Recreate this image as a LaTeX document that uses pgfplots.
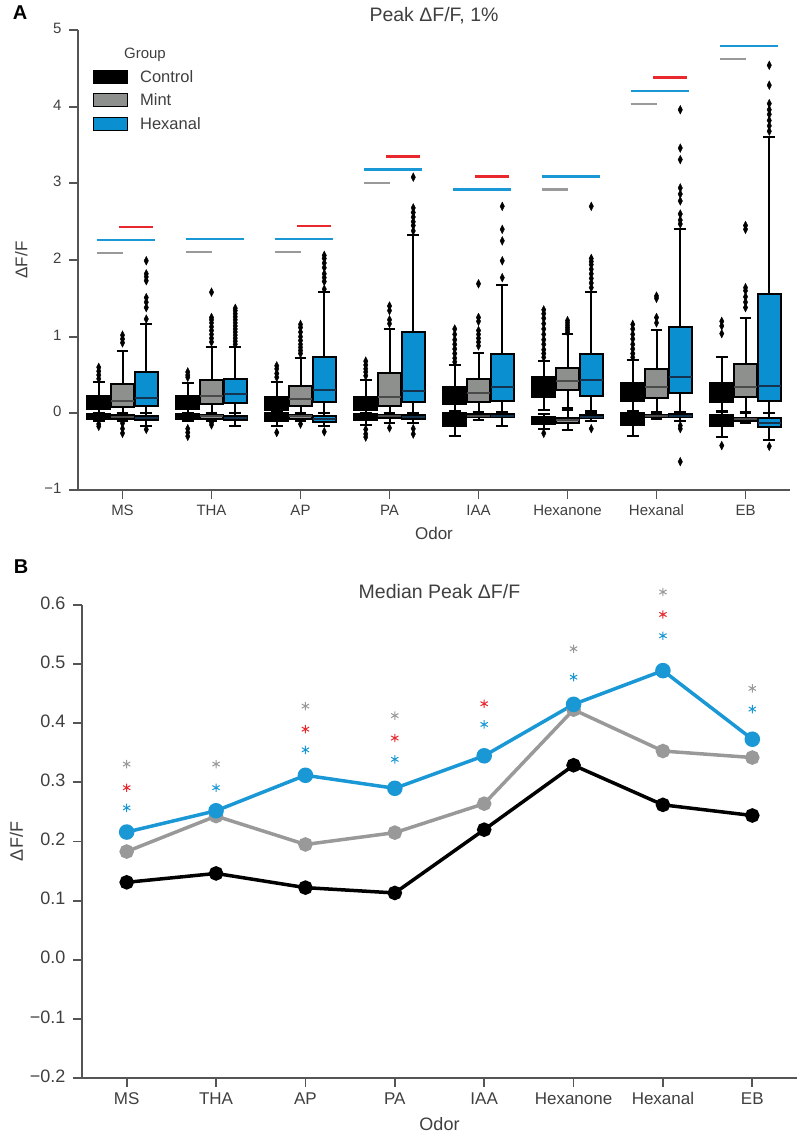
\documentclass[border=0pt]{standalone}
\usepackage{fontspec}
\setmainfont{Liberation Sans}
\usepackage{pgfplots}
\pgfplotsset{compat=1.18}
\usepgfplotslibrary{statistics}
\definecolor{txt}{HTML}{3F3F3F}
\definecolor{spine}{HTML}{555555}
\definecolor{cgray}{HTML}{8E908E}
\definecolor{mmed}{HTML}{4A4A4A}
\definecolor{cblue}{HTML}{0A8FD1}
\definecolor{hmed}{HTML}{15334F}
\definecolor{lgray}{HTML}{999999}
\definecolor{lblue}{HTML}{1A97D5}
\definecolor{cred}{HTML}{E8282C}
\pgfplotsset{
  bx/.style={forget plot, solid, line width=2pt, draw=black,
    mark=diamond*, mark size=4.3pt, mark options={fill=black, draw=black, xscale=0.68, line width=0.4pt},
    boxplot/draw direction=y,
    boxplot/box extend=0.26, boxplot/whisker extend=0.13},
  bC/.style={bx, fill=black, boxplot/every median/.style={draw=black}},
  bM/.style={bx, fill=cgray, boxplot/every median/.style={draw=mmed}},
  bH/.style={bx, fill=cblue, boxplot/every median/.style={draw=hmed}},
}
\newcommand{\bp}[8]{\addplot[#1, boxplot prepared={draw position=#2, lower whisker=#3, lower quartile=#4, median=#5, upper quartile=#6, upper whisker=#7}] coordinates {#8};}
\begin{document}
\begin{tikzpicture}
\path[use as bounding box] (0,0) rectangle (800pt,-1137pt);
\node[font=\bfseries\fontsize{20}{24}\selectfont] at (20pt,-13pt) {A};
\node[font=\bfseries\fontsize{20}{24}\selectfont] at (21pt,-567pt) {B};
% ---------------- Panel A ----------------
\begin{axis}[
  at={(78pt,-490pt)}, anchor=south west, scale only axis,
  width=712pt, height=460pt,
  xmin=-0.5, xmax=7.5, ymin=-1, ymax=5,
  axis x line*=bottom, axis y line*=left,
  axis line style={spine, line width=1.8pt, -},
  xtick={0,1,2,3,4,5,6,7}, xticklabels={MS,THA,AP,PA,IAA,Hexanone,Hexanal,EB},
  ytick={-1,0,1,2,3,4,5}, yticklabels={−1,0,1,2,3,4,5},
  typeset ticklabels with strut,
  tick align=outside, major tick length=9pt, tick style={spine, line width=1.8pt},
  ticklabel style={font=\fontsize{15}{18}\selectfont, text=txt},
  yticklabel style={xshift=-4pt},
  xlabel={Odor}, ylabel={ΔF/F}, ylabel shift=10pt,
  label style={font=\fontsize{17}{20}\selectfont, text=txt},
  title={Peak ΔF/F, 1\%}, title style={font=\fontsize{19.5}{23}\selectfont, text=txt, yshift=-4pt},
  clip=false, unbounded coords=jump,
  legend image code/.code={\draw[#1] (0pt,-6.5pt) rectangle (34pt,6.5pt);},
  legend style={at={(0.021,0.965)}, anchor=north west, draw=none, fill=none, inner sep=0pt,
    font=\fontsize{16.5}{19}\selectfont, text=txt, row sep=6pt,
    /tikz/every odd column/.append style={column sep=10pt}},
  legend cell align=left,
]
\addlegendimage{empty legend}\addlegendentry{\hspace*{-16pt}\fontsize{15}{18}\selectfont Group}
\addlegendimage{fill=black, draw=black, line width=1pt}\addlegendentry{Control}
\addlegendimage{fill=cgray, draw=black, line width=1pt}\addlegendentry{Mint}
\addlegendimage{fill=cblue, draw=black, line width=1pt}\addlegendentry{Hexanal}
% significance lines
\addplot[forget plot, lgray, line width=2.2pt] coordinates {(-0.29,2.09)(0,2.09) (nan,nan) (0.71,2.10)(1,2.10) (nan,nan) (1.71,2.10)(2,2.10) (nan,nan) (2.71,3.00)(3,3.00) (nan,nan) (4.71,2.92)(5,2.92) (nan,nan) (5.71,4.03)(6,4.03) (nan,nan) (6.71,4.62)(7,4.62)};
\addplot[forget plot, lblue, line width=2.2pt] coordinates {(-0.29,2.26)(0.36,2.26) (nan,nan) (0.71,2.27)(1.36,2.27) (nan,nan) (1.71,2.27)(2.36,2.27) (nan,nan) (2.71,3.18)(3.36,3.18) (nan,nan) (3.71,2.92)(4.36,2.92) (nan,nan) (4.71,3.09)(5.36,3.09) (nan,nan) (5.71,4.20)(6.36,4.20) (nan,nan) (6.71,4.79)(7.36,4.79)};
\addplot[forget plot, cred, line width=2.2pt] coordinates {(-0.04,2.43)(0.34,2.43) (nan,nan) (1.96,2.44)(2.34,2.44) (nan,nan) (2.96,3.35)(3.34,3.35) (nan,nan) (3.96,3.09)(4.34,3.09) (nan,nan) (5.96,4.38)(6.34,4.38)};
% MS
\bp{bC}{-0.267}{0.0}{0.06}{0.14}{0.22}{0.41}{(0,0.45)(0,0.5)(0,0.55)(0,0.6)}
\bp{bM}{0}{0.0}{0.08}{0.16}{0.38}{0.81}{(0,0.92)(0,0.97)(0,1.02)}
\bp{bH}{0.267}{0.0}{0.095}{0.20}{0.54}{1.16}{(0,1.23)(0,1.38)(0,1.45)(0,1.51)(0,1.73)(0,1.78)(0,1.82)(0,1.99)}
\bp{bC}{-0.267}{-0.1}{-0.07}{-0.04}{-0.01}{0.0}{(0,-0.14)(0,-0.17)}
\bp{bM}{0}{-0.1}{-0.07}{-0.045}{-0.02}{0.0}{(0,-0.13)(0,-0.2)(0,-0.26)}
\bp{bH}{0.267}{-0.17}{-0.09}{-0.06}{-0.035}{0.0}{(0,-0.21)}
% THA
\bp{bC}{0.733}{0.0}{0.06}{0.14}{0.22}{0.40}{(0,0.47)(0,0.5)(0,0.54)}
\bp{bM}{1}{0.0}{0.126}{0.23}{0.43}{0.87}{(0,0.93)(0,0.98)(0,1.03)(0,1.08)(0,1.13)(0,1.18)(0,1.22)(0,1.25)(0,1.58)}
\bp{bH}{1.267}{0.0}{0.14}{0.25}{0.45}{0.87}{(0,0.9)(0,0.94)(0,0.98)(0,1.02)(0,1.06)(0,1.1)(0,1.14)(0,1.18)(0,1.22)(0,1.26)(0,1.3)(0,1.34)(0,1.37)}
\bp{bC}{0.733}{-0.1}{-0.08}{-0.04}{-0.01}{0.0}{(0,-0.2)(0,-0.25)(0,-0.3)}
\bp{bM}{1}{-0.1}{-0.07}{-0.04}{-0.02}{0.0}{(0,-0.12)(0,-0.15)}
\bp{bH}{1.267}{-0.16}{-0.09}{-0.06}{-0.035}{0.0}{}
% AP
\bp{bC}{1.733}{0.0}{0.05}{0.13}{0.21}{0.41}{(0,0.47)(0,0.52)(0,0.58)(0,0.62)}
\bp{bM}{2}{0.0}{0.10}{0.19}{0.36}{0.72}{(0,0.78)(0,0.82)(0,0.86)(0,0.9)(0,0.95)(0,1.0)(0,1.06)(0,1.12)(0,1.16)}
\bp{bH}{2.267}{0.0}{0.15}{0.31}{0.74}{1.58}{(0,1.62)(0,1.72)(0,1.77)(0,1.82)(0,1.9)(0,1.96)(0,2.02)(0,2.06)}
\bp{bC}{1.733}{-0.16}{-0.1}{-0.05}{0.0}{0.02}{(0,-0.25)}
\bp{bM}{2}{-0.1}{-0.07}{-0.04}{-0.02}{0.0}{(0,-0.14)}
\bp{bH}{2.267}{-0.16}{-0.11}{-0.08}{-0.04}{0.0}{(0,-0.24)}
% PA
\bp{bC}{2.733}{0.0}{0.05}{0.13}{0.21}{0.43}{(0,0.49)(0,0.54)(0,0.58)(0,0.63)(0,0.68)}
\bp{bM}{3}{0.0}{0.10}{0.21}{0.52}{1.10}{(0,1.17)(0,1.22)(0,1.34)(0,1.40)}
\bp{bH}{3.267}{0.0}{0.15}{0.29}{1.06}{2.33}{(0,2.38)(0,2.45)(0,2.5)(0,2.56)(0,2.62)(0,2.68)(0,3.08)}
\bp{bC}{2.733}{-0.15}{-0.09}{-0.05}{-0.01}{0.01}{(0,-0.21)(0,-0.27)(0,-0.31)}
\bp{bM}{3}{-0.12}{-0.06}{-0.04}{-0.02}{0.0}{(0,-0.19)}
\bp{bH}{3.267}{-0.13}{-0.07}{-0.05}{-0.02}{0.0}{(0,-0.2)(0,-0.27)}
% IAA
\bp{bC}{3.733}{0.0}{0.125}{0.23}{0.34}{0.63}{(0,0.67)(0,0.72)(0,0.78)(0,0.84)(0,0.9)(0,0.96)(0,1.03)(0,1.1)}
\bp{bM}{4}{0.0}{0.15}{0.26}{0.45}{0.79}{(0,0.88)(0,0.93)(0,0.98)(0,1.03)(0,1.08)(0,1.2)(0,1.25)(0,1.69)}
\bp{bH}{4.267}{0.0}{0.155}{0.34}{0.78}{1.68}{(0,1.77)(0,1.99)(0,2.25)(0,2.40)(0,2.70)}
\bp{bC}{3.733}{-0.29}{-0.16}{-0.08}{0.0}{0.03}{}
\bp{bM}{4}{-0.09}{-0.05}{-0.03}{-0.01}{0.02}{}
\bp{bH}{4.267}{-0.16}{-0.05}{-0.03}{-0.01}{0.02}{}
% Hexanone
\bp{bC}{4.733}{0.04}{0.21}{0.35}{0.48}{0.68}{(0,0.73)(0,0.78)(0,0.83)(0,0.9)(0,0.96)(0,1.03)(0,1.1)(0,1.17)(0,1.24)(0,1.3)(0,1.35)}
\bp{bM}{5}{0.07}{0.30}{0.42}{0.59}{1.03}{(0,1.06)(0,1.09)(0,1.12)(0,1.15)(0,1.18)(0,1.21)}
\bp{bH}{5.267}{0.03}{0.23}{0.43}{0.78}{1.58}{(0,1.64)(0,1.7)(0,1.76)(0,1.82)(0,1.88)(0,1.94)(0,1.98)(0,2.02)(0,2.70)}
\bp{bC}{4.733}{-0.2}{-0.14}{-0.1}{-0.05}{-0.01}{(0,-0.26)}
\bp{bM}{5}{-0.22}{-0.12}{-0.09}{-0.06}{0.04}{}
\bp{bH}{5.267}{-0.1}{-0.06}{-0.045}{-0.025}{0.01}{(0,-0.2)}
% Hexanal
\bp{bC}{5.733}{0.0}{0.16}{0.27}{0.39}{0.70}{(0,0.73)(0,0.78)(0,0.84)(0,0.9)(0,0.97)(0,1.03)(0,1.1)(0,1.16)}
\bp{bM}{6}{0.0}{0.20}{0.34}{0.58}{1.09}{(0,1.18)(0,1.25)(0,1.50)(0,1.53)}
\bp{bH}{6.267}{0.0}{0.26}{0.47}{1.12}{2.40}{(0,2.47)(0,2.52)(0,2.60)(0,2.77)(0,2.86)(0,2.94)(0,3.31)(0,3.46)(0,3.96)}
\bp{bC}{5.733}{-0.29}{-0.15}{-0.08}{0.0}{0.03}{}
\bp{bM}{6}{-0.08}{-0.05}{-0.035}{-0.02}{0.02}{}
\bp{bH}{6.267}{-0.1}{-0.05}{-0.03}{-0.01}{0.02}{(0,-0.16)(0,-0.2)(0,-0.63)}
% EB
\bp{bC}{6.733}{0.02}{0.15}{0.27}{0.40}{0.74}{(0,1.04)(0,1.14)(0,1.20)}
\bp{bM}{7}{0.0}{0.21}{0.34}{0.65}{1.25}{(0,1.38)(0,1.45)(0,1.52)(0,1.6)(0,1.64)(0,2.40)(0,2.45)}
\bp{bH}{7.267}{0.0}{0.16}{0.36}{1.56}{3.61}{(0,3.68)(0,3.75)(0,3.82)(0,3.9)(0,3.96)(0,4.04)(0,4.28)(0,4.54)}
\bp{bC}{6.733}{-0.31}{-0.16}{-0.1}{-0.02}{0.03}{(0,-0.42)}
\bp{bM}{7}{-0.13}{-0.1}{-0.08}{-0.06}{0.02}{}
\bp{bH}{7.267}{-0.35}{-0.18}{-0.12}{-0.065}{0.0}{(0,-0.43)}
\end{axis}
% ---------------- Panel B ----------------
\begin{axis}[
  at={(82pt,-1078pt)}, anchor=south west, scale only axis,
  width=715pt, height=473pt,
  xmin=-0.5, xmax=7.5, ymin=-0.2, ymax=0.6,
  axis x line*=bottom, axis y line*=left,
  axis line style={spine, line width=1.8pt, -},
  xtick={0,1,2,3,4,5,6,7}, xticklabels={MS,THA,AP,PA,IAA,Hexanone,Hexanal,EB},
  ytick={-0.2,-0.1,0,0.1,0.2,0.3,0.4,0.5,0.6},
  yticklabels={−0.2,−0.1,0.0,0.1,0.2,0.3,0.4,0.5,0.6},
  typeset ticklabels with strut,
  tick align=outside, major tick length=9pt, tick style={spine, line width=1.8pt},
  xticklabel style={font=\fontsize{17}{20}\selectfont, text=txt},
  yticklabel style={font=\fontsize{18}{21}\selectfont, text=txt, xshift=-4pt},
  xlabel={Odor}, ylabel={ΔF/F},
  label style={font=\fontsize{18}{21}\selectfont, text=txt},
  title={Median Peak ΔF/F}, title style={font=\fontsize{19.5}{23}\selectfont, text=txt, yshift=-3pt},
  clip=false,
]
\addplot[black, line width=3.5pt, mark=*, mark size=5.5pt] coordinates {(0,0.131)(1,0.146)(2,0.122)(3,0.113)(4,0.220)(5,0.329)(6,0.262)(7,0.244)};
\addplot[lgray, line width=3.5pt, mark=*, mark size=5.5pt] coordinates {(0,0.183)(1,0.243)(2,0.195)(3,0.215)(4,0.264)(5,0.423)(6,0.353)(7,0.342)};
\addplot[lblue, line width=3.5pt, mark=*, mark size=6pt] coordinates {(0,0.216)(1,0.252)(2,0.312)(3,0.290)(4,0.345)(5,0.432)(6,0.489)(7,0.373)};
\addplot[only marks, mark=asterisk, mark size=4.2pt, lgray, line width=1pt] coordinates {(0,0.331)(1,0.331)(2,0.429)(3,0.413)(5,0.526)(6,0.622)(7,0.459)};
\addplot[only marks, mark=asterisk, mark size=4.2pt, cred, line width=1pt] coordinates {(0,0.291)(2,0.390)(3,0.375)(4,0.433)(6,0.584)};
\addplot[only marks, mark=asterisk, mark size=4.2pt, lblue, line width=1pt] coordinates {(0,0.257)(1,0.291)(2,0.355)(3,0.339)(4,0.398)(5,0.478)(6,0.548)(7,0.424)};
\end{axis}
\end{tikzpicture}
\end{document}
